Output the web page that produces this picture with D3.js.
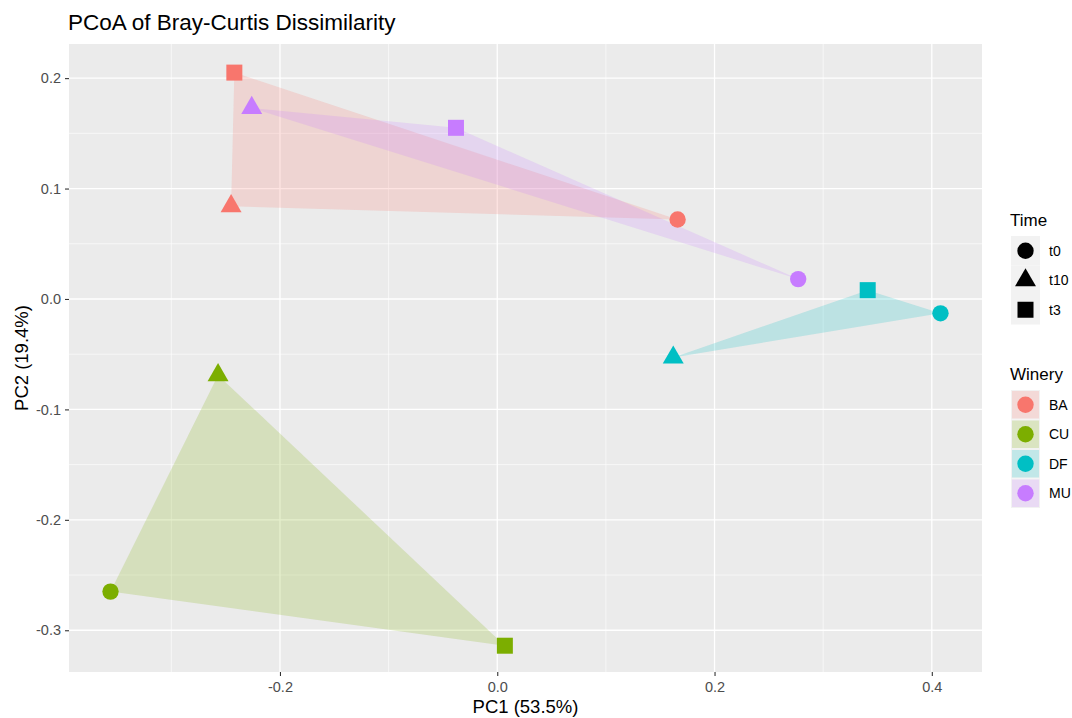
<!DOCTYPE html>
<html><head><meta charset="utf-8">
<script src="https://cdn.jsdelivr.net/npm/d3@7"></script>
<style>body{margin:0;background:#fff}svg{display:block;font-family:"Liberation Sans",Arial,sans-serif}</style>
</head><body><svg id="c" width="1072" height="718"></svg>
<script>
const wineries = ["BA","CU","DF","MU"];
const times = ["t0","t10","t3"];
const colors = ["#F8766D","#7CAE00","#00BFC4","#C77CFF"];
const sampleWinery = ["BA","BA","BA","CU","CU","CU","DF","DF","DF","MU","MU","MU"];
const sampleTime   = ["t0","t10","t3","t0","t10","t3","t0","t10","t3","t0","t10","t3"];
const pc1 = [0.166,-0.245,-0.242,-0.356,-0.257,0.007,0.408,0.162,0.341,0.277,-0.226,-0.038];
const pc2 = [0.072,0.084,0.205,-0.265,-0.069,-0.314,-0.013,-0.053,0.008,0.018,0.173,0.155];
const xTicks = [-0.2,0.0,0.2,0.4];
const yTicks = [-0.3,-0.2,-0.1,0.0,0.1,0.2];
const xMinor = [-0.3,-0.1,0.1,0.3];
const yMinor = [-0.25,-0.15,-0.05,0.05,0.15];

const svg = d3.select("#c");
const P = {l:69, r:982, t:44, b:672};
const x = d3.scaleLinear().domain([-0.3942,0.4462]).range([P.l,P.r]);
const y = d3.scaleLinear().domain([-0.3378,0.2309]).range([P.b,P.t]);
const col = d3.scaleOrdinal().domain(wineries).range(colors);
const shapeOf = {t0:d3.symbolCircle, t10:d3.symbolTriangle, t3:d3.symbolSquare};
const sizeOf = {t0:210, t10:190, t3:256};

svg.append("text").attr("x",68).attr("y",30).attr("font-size",22.5).attr("fill","#000").text("PCoA of Bray-Curtis Dissimilarity");

svg.append("rect").attr("x",P.l).attr("y",P.t).attr("width",P.r-P.l).attr("height",P.b-P.t).attr("fill","#EBEBEB");
const g = svg.append("g");
xMinor.forEach(v=>g.append("line").attr("x1",x(v)).attr("x2",x(v)).attr("y1",P.t).attr("y2",P.b).attr("stroke","#fff").attr("stroke-width",0.6));
yMinor.forEach(v=>g.append("line").attr("y1",y(v)).attr("y2",y(v)).attr("x1",P.l).attr("x2",P.r).attr("stroke","#fff").attr("stroke-width",0.6));
xTicks.forEach(v=>g.append("line").attr("x1",x(v)).attr("x2",x(v)).attr("y1",P.t).attr("y2",P.b).attr("stroke","#fff").attr("stroke-width",1.3));
yTicks.forEach(v=>g.append("line").attr("y1",y(v)).attr("y2",y(v)).attr("x1",P.l).attr("x2",P.r).attr("stroke","#fff").attr("stroke-width",1.3));

const data = pc1.map((v,i)=>({x:v,y:pc2[i],w:sampleWinery[i],t:sampleTime[i]}));

// hulls
wineries.forEach(w=>{
  const pts = data.filter(d=>d.w===w).map(d=>[x(d.x),y(d.y)]);
  const hull = d3.polygonHull(pts);
  svg.append("path").attr("d","M"+hull.join("L")+"Z").attr("fill",col(w)).attr("fill-opacity",0.2).attr("stroke","none");
});

// points
svg.selectAll("path.pt").data(data).join("path").attr("class","pt")
  .attr("transform",d=>`translate(${x(d.x)},${y(d.y)})`)
  .attr("d",d=>d3.symbol().type(shapeOf[d.t]).size(sizeOf[d.t])())
  .attr("fill",d=>col(d.w));

// axes
const fmt = d=>d3.format(".1f")(d).replace("\u2212","-");
const xa = svg.append("g").attr("transform",`translate(0,${P.b})`)
  .call(d3.axisBottom(x).tickValues(xTicks).tickFormat(fmt).tickSize(4).tickPadding(6));
const ya = svg.append("g").attr("transform",`translate(${P.l},0)`)
  .call(d3.axisLeft(y).tickValues(yTicks).tickFormat(fmt).tickSize(4).tickPadding(4));
[xa,ya].forEach(a=>{
  a.select(".domain").remove();
  a.selectAll(".tick line").attr("stroke","#333").attr("stroke-width",1.1);
  a.selectAll(".tick text").attr("fill","#4D4D4D").attr("font-size",14.5).attr("font-family","Liberation Sans, Arial, sans-serif");
});

svg.append("text").attr("x",(P.l+P.r)/2).attr("y",713).attr("text-anchor","middle").attr("font-size",18.5).text("PC1 (53.5%)");
svg.append("text").attr("transform",`translate(28,${(P.t+P.b)/2}) rotate(-90)`).attr("text-anchor","middle").attr("font-size",18.5).text("PC2 (19.4%)");

// legends
const L = svg.append("g");
L.append("text").attr("x",1010).attr("y",226).attr("font-size",17).text("Time");
const keyH = 29.5, keyW = 29;
times.forEach((t,i)=>{
  const ky = 236 + i*keyH;
  L.append("rect").attr("x",1011).attr("y",ky).attr("width",keyW).attr("height",keyH).attr("fill","#F2F2F2");
  L.append("path").attr("transform",`translate(${1011+keyW/2},${ky+keyH/2})`).attr("d",d3.symbol().type(shapeOf[t]).size(sizeOf[t])()).attr("fill","#000");
  L.append("text").attr("x",1049).attr("y",ky+keyH/2+5).attr("font-size",14).attr("fill","#000").text(t);
});
L.append("text").attr("x",1010).attr("y",380).attr("font-size",17).text("Winery");
wineries.forEach((w,i)=>{
  const ky = 390 + i*keyH;
  L.append("rect").attr("x",1011).attr("y",ky).attr("width",keyW).attr("height",keyH).attr("fill","#F2F2F2");
  L.append("rect").attr("x",1012).attr("y",ky+1).attr("width",keyW-2).attr("height",keyH-2).attr("fill",col(w)).attr("fill-opacity",0.2);
  L.append("circle").attr("cx",1011+keyW/2).attr("cy",ky+keyH/2).attr("r",8.2).attr("fill",col(w));
  L.append("text").attr("x",1049).attr("y",ky+keyH/2+5).attr("font-size",14).attr("fill","#000").text(w);
});
</script></body></html>
